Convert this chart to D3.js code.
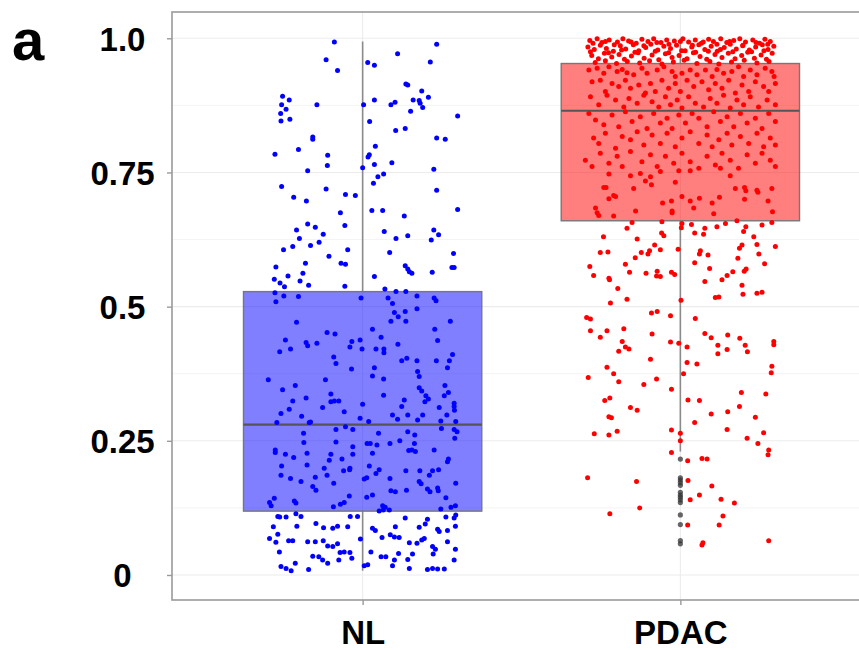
<!DOCTYPE html>
<html>
<head>
<meta charset="utf-8">
<script src="https://cdn.jsdelivr.net/npm/d3@7"></script>
<style>
  body { margin: 0; background: #fff; }
  svg { display: block; }
</style>
</head>
<body>
<svg id="chart" width="859" height="650"></svg>
<script>
// ---- data -------------------------------------------------------------
const categories = ["NL", "PDAC"];
const yTickValues = [0, 0.25, 0.5, 0.75, 1];
const yTickLabels = ["0", "0.25", "0.5", "0.75", "1.0"];
const yMinorValues = [0.125, 0.375, 0.625, 0.875];

// box-plot statistics per category (NL, PDAC)
const whiskerLow  = [0.008, 0.230];
const boxLower    = [0.119, 0.660];
const boxMedian   = [0.280, 0.865];
const boxUpper    = [0.528, 0.953];
const whiskerHigh = [0.994, 1.000];

// PDAC values flagged as outliers by the box plot
const pdacOutliers = [0.216, 0.181, 0.177, 0.172, 0.167, 0.154, 0.149, 0.145, 0.140, 0.135, 0.112, 0.094, 0.064, 0.058];

// individual samples: [jitter offset (fraction of category step), value]
const nlPoints = [
  [-0.089,0.993],[0.233,0.989],[0.110,0.971],[-0.115,0.960],[0.016,0.955],[0.037,0.950],[0.213,0.956],[-0.079,0.940],
  [0.136,0.915],[0.142,0.913],[0.186,0.902],[-0.252,0.892],[-0.231,0.885],[-0.255,0.876],[-0.241,0.868],[-0.258,0.860],
  [-0.257,0.846],[-0.229,0.849],[-0.144,0.876],[0.003,0.876],[0.037,0.885],[0.089,0.876],[0.102,0.881],[0.159,0.885],
  [0.178,0.884],[0.181,0.879],[0.189,0.871],[0.207,0.890],[0.151,0.864],[0.299,0.855],[0.022,0.845],[0.104,0.828],
  [0.134,0.832],[-0.157,0.816],[-0.157,0.812],[0.233,0.814],[0.260,0.812],[0.040,0.799],[-0.202,0.793],[-0.276,0.784],
  [-0.110,0.782],[0.021,0.783],[0.017,0.779],[-0.111,0.763],[0.000,0.759],[0.037,0.765],[0.092,0.768],[-0.173,0.753],
  [0.224,0.756],[0.066,0.747],[0.048,0.742],[0.034,0.730],[-0.255,0.724],[-0.115,0.719],[0.233,0.717],[-0.217,0.704],
  [-0.177,0.697],[-0.054,0.709],[-0.023,0.707],[-0.070,0.675],[0.029,0.679],[0.063,0.679],[0.131,0.669],[0.299,0.681],
  [-0.173,0.654],[-0.149,0.648],[-0.208,0.643],[-0.056,0.651],[-0.124,0.635],[-0.199,0.627],[-0.220,0.612],[-0.249,0.606],
  [-0.164,0.614],[-0.137,0.620],[-0.047,0.606],[-0.106,0.594],[-0.180,0.581],[-0.273,0.574],[-0.068,0.581],[-0.054,0.579],
  [-0.188,0.562],[-0.235,0.557],[-0.278,0.551],[-0.197,0.548],[-0.260,0.544],[-0.246,0.537],[-0.170,0.540],[-0.056,0.538],
  [0.068,0.640],[0.105,0.627],[0.142,0.632],[0.224,0.643],[0.239,0.634],[0.216,0.624],[0.085,0.601],[0.286,0.599],
  [0.134,0.576],[0.142,0.570],[0.147,0.565],[0.155,0.562],[0.219,0.564],[0.281,0.573],[0.288,0.573],[0.037,0.556],
  [0.070,0.533],[0.105,0.528],[0.136,0.528],
  [-0.276,0.526],[-0.248,0.520],[-0.202,0.519],[-0.273,0.509],[-0.005,0.516],[0.080,0.516],[0.094,0.506],[0.171,0.520],
  [0.225,0.516],[0.231,0.511],[0.171,0.496],[0.100,0.489],[0.134,0.491],[0.112,0.481],[0.089,0.473],[0.136,0.473],
  [-0.208,0.471],[0.276,0.473],[0.031,0.458],[0.227,0.458],[-0.112,0.452],[-0.087,0.449],[0.058,0.443],[-0.243,0.438],
  [-0.178,0.433],[-0.173,0.427],[-0.144,0.432],[-0.034,0.435],[-0.008,0.438],[0.236,0.437],[0.111,0.430],[-0.261,0.416],
  [-0.227,0.421],[-0.040,0.425],[-0.002,0.421],[0.042,0.421],[0.067,0.421],[0.067,0.414],[0.283,0.411],[-0.091,0.406],
  [-0.084,0.394],[0.123,0.399],[0.139,0.404],[0.171,0.399],[0.232,0.399],[0.273,0.399],[0.267,0.386],[-0.035,0.384],
  [0.037,0.386],[0.173,0.379],[0.178,0.370],[0.031,0.371],[0.066,0.365],[-0.297,0.364],[-0.117,0.364],[-0.212,0.353],
  [-0.252,0.345],[0.178,0.349],[0.186,0.343],[0.259,0.353],[0.270,0.340],[0.066,0.335],[-0.100,0.337],[-0.178,0.330],
  [0.199,0.334],[0.257,0.334],[0.207,0.328],[-0.220,0.324],[-0.100,0.323],[-0.089,0.324],[-0.075,0.324],[0.000,0.318],
  [0.131,0.326],[0.196,0.323],[0.288,0.320],
  [-0.126,0.312],[0.123,0.314],[0.288,0.314],[0.289,0.307],[-0.058,0.304],[-0.257,0.301],[-0.231,0.309],[-0.192,0.296],
  [0.094,0.298],[0.110,0.290],[0.142,0.298],[0.189,0.298],[0.241,0.312],[0.265,0.298],[0.173,0.289],[-0.008,0.292],
  [0.019,0.286],[-0.270,0.284],[-0.168,0.284],[-0.164,0.285],[0.246,0.287],[0.293,0.286],
  [-0.084,0.271],[-0.054,0.276],[-0.031,0.271],[-0.186,0.264],[0.050,0.264],[0.142,0.267],[0.164,0.261],[0.248,0.273],
  [0.288,0.271],[0.297,0.267],[-0.185,0.247],[-0.084,0.248],[0.014,0.245],[0.024,0.245],[0.086,0.245],[0.117,0.250],
  [0.163,0.245],[0.045,0.242],[-0.031,0.239],[0.290,0.255],[-0.275,0.233],[-0.275,0.228],[-0.243,0.225],[-0.217,0.219],
  [-0.175,0.227],[-0.100,0.225],[-0.105,0.214],[-0.065,0.216],[-0.031,0.225],[0.031,0.227],[0.145,0.232],[0.155,0.233],
  [0.166,0.230],[0.225,0.233],[0.270,0.216],[0.267,0.211],[-0.175,0.205],[-0.255,0.203],[-0.121,0.199],[-0.040,0.199],
  [-0.041,0.196],[-0.060,0.194],[0.021,0.203],[0.052,0.196],[0.042,0.189],[0.136,0.194],[0.180,0.194],[0.210,0.186],
  [0.220,0.194],[0.239,0.196],[-0.257,0.186],[-0.227,0.180],[-0.194,0.174],[-0.149,0.182],[-0.112,0.186],[0.013,0.181],
  [0.005,0.179],[0.086,0.180],[0.178,0.174],[0.184,0.170],[0.293,0.171],[-0.157,0.165],[-0.147,0.158],[-0.091,0.171],
  [0.089,0.157],[0.103,0.155],[0.138,0.158],[0.204,0.160],[0.212,0.155],[0.236,0.162],[0.238,0.157],[-0.042,0.147],
  [0.031,0.149],[0.013,0.145],[0.262,0.144],[-0.278,0.143],[-0.215,0.138],[-0.210,0.134],[-0.293,0.135],[-0.288,0.129],
  [-0.058,0.135],[-0.070,0.132],[-0.092,0.127],[0.063,0.129],[0.071,0.126],[0.246,0.123],[0.278,0.126],[0.292,0.129],
  [0.084,0.121],
  [-0.267,0.109],[-0.261,0.108],[-0.241,0.108],[-0.210,0.114],[-0.194,0.109],[-0.039,0.109],[-0.016,0.109],[0.052,0.119],
  [0.065,0.121],[0.134,0.106],[0.204,0.104],[0.262,0.108],[0.288,0.106],[0.293,0.112],[-0.281,0.090],[-0.207,0.091],
  [-0.147,0.096],[-0.123,0.088],[-0.094,0.087],[-0.079,0.091],[-0.047,0.090],[0.031,0.087],[0.040,0.083],[0.103,0.090],
  [0.178,0.089],[0.197,0.095],[0.236,0.085],[0.241,0.081],[0.267,0.083],[0.292,0.091],[-0.293,0.068],[-0.273,0.061],
  [-0.267,0.076],[-0.233,0.064],[-0.220,0.064],[-0.173,0.062],[-0.149,0.062],[-0.124,0.064],[-0.110,0.054],[-0.094,0.053],
  [-0.079,0.058],[-0.058,0.043],[-0.040,0.042],[-0.007,0.067],[0.061,0.070],[0.087,0.075],[0.100,0.071],[0.115,0.070],
  [0.147,0.060],[0.171,0.059],[0.186,0.065],[0.194,0.068],[0.267,0.062],[0.220,0.053],[0.229,0.048],[0.292,0.048],
  [-0.262,0.043],[-0.157,0.035],[-0.138,0.034],[-0.126,0.028],[-0.110,0.022],[-0.071,0.042],[-0.075,0.028],[-0.034,0.031],
  [0.026,0.043],[0.058,0.034],[0.073,0.034],[0.100,0.028],[0.113,0.040],[0.157,0.039],[0.142,0.029],[0.222,0.039],
  [0.288,0.028],[-0.257,0.016],[-0.241,0.012],[-0.212,0.022],[-0.225,0.008],[-0.170,0.010],[0.005,0.017],[0.016,0.019],
  [0.094,0.017],[0.147,0.012],[0.204,0.010],[0.236,0.011],[0.220,0.012],[0.257,0.011]
];

const pdacPoints = [
  // 0.95 – 1.00
  [-0.285,0.996],[-0.262,0.999],[-0.247,0.992],[-0.224,0.997],[-0.198,0.993],[-0.181,0.999],[-0.163,0.995],[-0.139,0.991],
  [-0.121,0.998],[-0.102,0.994],[-0.084,0.999],[-0.061,0.992],[-0.043,0.997],[-0.019,0.995],[0.008,0.999],[0.026,0.993],
  [0.047,0.997],[0.066,0.991],[0.089,0.998],[0.104,0.994],[0.127,0.999],[0.146,0.992],[0.168,0.996],[0.187,0.999],
  [0.205,0.993],[0.228,0.997],[0.249,0.991],[0.266,0.998],[0.283,0.994],
  [-0.291,0.984],[-0.271,0.979],[-0.252,0.987],[-0.233,0.981],[-0.211,0.976],[-0.189,0.986],[-0.172,0.980],[-0.148,0.988],
  [-0.131,0.977],[-0.109,0.983],[-0.093,0.989],[-0.071,0.978],[-0.052,0.985],[-0.031,0.981],[-0.012,0.987],[0.015,0.977],
  [0.036,0.984],[0.058,0.988],[0.077,0.979],[0.097,0.985],[0.116,0.976],[0.138,0.983],[0.157,0.989],[0.176,0.980],
  [0.196,0.986],[0.217,0.978],[0.237,0.984],[0.258,0.988],[0.276,0.979],[0.294,0.985],
  [-0.279,0.968],[-0.258,0.962],[-0.239,0.972],[-0.216,0.965],[-0.193,0.970],[-0.176,0.961],[-0.154,0.967],[-0.133,0.973],
  [-0.114,0.963],[-0.089,0.969],[-0.068,0.960],[-0.047,0.971],[-0.026,0.964],[-0.004,0.968],[0.021,0.962],[0.041,0.973],
  [0.062,0.966],[0.083,0.961],[0.109,0.970],[0.131,0.964],[0.151,0.972],[0.172,0.962],[0.193,0.968],[0.212,0.974],
  [0.233,0.963],[0.254,0.969],[0.271,0.961],[0.289,0.972],
  [-0.268,0.955],[-0.236,0.958],[-0.201,0.953],[-0.167,0.957],[-0.128,0.954],[-0.097,0.958],[-0.058,0.952],[-0.022,0.956],
  [0.012,0.959],[0.052,0.953],[0.093,0.957],[0.121,0.952],[0.161,0.956],[0.201,0.959],[0.241,0.954],[0.279,0.957],
  [-0.275,0.991],[-0.236,0.994],[-0.208,0.988],[-0.155,0.993],[-0.115,0.986],[-0.074,0.992],[-0.036,0.989],[0.000,0.994],
  [0.038,0.987],[0.072,0.993],[0.115,0.989],[0.155,0.994],[0.197,0.987],[0.238,0.992],[0.275,0.989],
  [-0.283,0.975],[-0.226,0.973],[-0.185,0.978],[-0.143,0.974],[-0.079,0.976],[-0.037,0.973],[0.004,0.977],[0.048,0.974],
  [0.088,0.976],[0.126,0.979],[0.165,0.975],[0.224,0.975],[0.263,0.977],
  // 0.75 – 0.95
  [-0.288,0.941],[-0.262,0.944],[-0.241,0.935],[-0.225,0.947],[-0.199,0.938],[-0.183,0.942],[-0.168,0.936],[-0.147,0.932],
  [-0.121,0.944],[-0.105,0.935],[-0.073,0.941],[-0.052,0.947],[-0.026,0.938],[-0.016,0.929],[0.005,0.935],[0.031,0.941],
  [0.052,0.932],[0.079,0.941],[0.100,0.929],[0.115,0.942],[0.136,0.935],[0.162,0.938],[0.183,0.947],[0.199,0.929],
  [0.220,0.941],[0.241,0.932],[0.267,0.944],[0.288,0.938],[0.295,0.929],
  [-0.278,0.919],[-0.252,0.922],[-0.236,0.901],[-0.215,0.916],[-0.194,0.910],[-0.173,0.922],[-0.157,0.907],[-0.131,0.913],
  [-0.110,0.898],[-0.094,0.916],[-0.079,0.901],[-0.058,0.922],[-0.037,0.907],[-0.016,0.916],[0.000,0.901],[0.021,0.922],
  [0.042,0.910],[0.068,0.919],[0.089,0.904],[0.110,0.916],[0.131,0.907],[0.152,0.922],[0.173,0.898],[0.194,0.913],
  [0.215,0.901],[0.236,0.919],[0.262,0.910],[0.278,0.901],[0.299,0.916],
  [-0.283,0.891],[-0.257,0.876],[-0.231,0.894],[-0.204,0.885],[-0.178,0.872],[-0.162,0.888],[-0.136,0.879],[-0.115,0.894],
  [-0.089,0.882],[-0.068,0.872],[-0.047,0.891],[-0.031,0.876],[-0.010,0.885],[0.005,0.870],[0.026,0.891],[0.047,0.879],
  [0.073,0.872],[0.094,0.888],[0.115,0.879],[0.136,0.894],[0.157,0.870],[0.178,0.885],[0.199,0.876],[0.220,0.891],
  [0.246,0.872],[0.273,0.885],[0.299,0.876],
  [-0.288,0.860],[-0.267,0.848],[-0.241,0.839],[-0.215,0.857],[-0.194,0.835],[-0.173,0.863],[-0.152,0.845],[-0.126,0.854],
  [-0.105,0.832],[-0.084,0.860],[-0.063,0.842],[-0.042,0.851],[-0.026,0.832],[-0.005,0.857],[0.016,0.842],[0.037,0.860],
  [0.058,0.851],[0.084,0.835],[0.105,0.863],[0.126,0.845],[0.147,0.854],[0.168,0.835],[0.189,0.860],[0.210,0.842],
  [0.236,0.851],[0.257,0.832],[0.278,0.860],[0.299,0.845],
  [-0.273,0.814],[-0.257,0.804],[-0.236,0.823],[-0.204,0.795],[-0.183,0.817],[-0.157,0.811],[-0.136,0.826],[-0.115,0.801],
  [-0.089,0.820],[-0.063,0.804],[-0.042,0.823],[-0.016,0.798],[0.005,0.814],[0.031,0.826],[0.058,0.804],[0.084,0.820],
  [0.100,0.798],[0.121,0.811],[0.147,0.823],[0.162,0.801],[0.189,0.817],[0.215,0.804],[0.241,0.823],[0.262,0.798],
  [0.283,0.814],[0.299,0.801],
  [-0.299,0.773],[-0.278,0.761],[-0.252,0.786],[-0.225,0.767],[-0.199,0.780],[-0.183,0.761],[-0.157,0.789],[-0.121,0.770],
  [-0.094,0.783],[-0.073,0.761],[-0.047,0.780],[-0.021,0.767],[0.005,0.786],[0.031,0.770],[0.058,0.758],[0.084,0.780],
  [0.110,0.764],[0.131,0.786],[0.157,0.773],[0.183,0.758],[0.210,0.783],[0.236,0.767],[0.257,0.786],[0.283,0.773],
  [0.299,0.761],
  // 0.66 – 0.75
  [-0.225,0.747],[-0.157,0.744],[-0.126,0.748],[-0.094,0.742],[-0.063,0.752],[-0.005,0.753],[0.031,0.753],[0.157,0.744],
  [0.126,0.758],[-0.110,0.734],[-0.091,0.727],[-0.016,0.732],[-0.241,0.722],[-0.234,0.722],[-0.147,0.720],[0.173,0.720],
  [0.202,0.722],[0.206,0.716],[0.241,0.717],[0.244,0.713],[0.288,0.720],[-0.225,0.701],[-0.210,0.707],[-0.204,0.705],
  [0.005,0.705],[0.031,0.697],[0.060,0.702],[0.123,0.704],[0.202,0.700],[0.276,0.697],[-0.056,0.693],[-0.028,0.697],
  [0.100,0.693],[0.042,0.684],[-0.267,0.684],[-0.141,0.678],[-0.026,0.678],[-0.026,0.675],[-0.262,0.675],[-0.257,0.670],
  [-0.210,0.669],[0.105,0.673],[0.290,0.677],
  // below the box
  [-0.168,0.646],[-0.152,0.657],[-0.058,0.658],[0.005,0.655],[0.003,0.647],[0.035,0.653],[0.077,0.646],[0.073,0.635],
  [0.115,0.649],[0.142,0.655],[0.178,0.660],[0.206,0.649],[0.257,0.652],[0.288,0.657],[0.045,0.637],[0.199,0.640],
  [-0.242,0.630],[-0.136,0.626],[-0.059,0.637],[-0.052,0.632],[0.231,0.630],[-0.081,0.615],[0.194,0.615],[0.186,0.609],
  [0.241,0.616],[0.299,0.612],[-0.252,0.601],[-0.228,0.602],[-0.123,0.601],[-0.097,0.604],[-0.102,0.598],[-0.063,0.606],
  [-0.007,0.607],[0.063,0.604],[0.060,0.598],[0.087,0.596],[0.247,0.598],[-0.142,0.591],[0.181,0.590],[-0.285,0.575],
  [-0.173,0.579],[0.045,0.582],[0.207,0.570],[0.201,0.566],[0.265,0.580],[0.092,0.571],[-0.273,0.558],[-0.160,0.564],
  [-0.108,0.562],[-0.073,0.566],[-0.075,0.557],[-0.063,0.556],[-0.028,0.564],[-0.018,0.560],[0.165,0.565],[0.147,0.558],
  [0.131,0.550],[-0.225,0.553],[-0.223,0.550],[0.077,0.547],[0.194,0.540],[-0.197,0.534],[0.110,0.517],[0.121,0.518],
  [0.241,0.525],[0.257,0.527],[0.197,0.523],[-0.220,0.507],[-0.168,0.514],[0.002,0.512],[-0.295,0.480],[-0.283,0.477],
  [-0.091,0.488],[-0.073,0.491],[-0.031,0.483],[0.047,0.478],[-0.283,0.455],[-0.252,0.443],[-0.231,0.455],[-0.178,0.459],
  [-0.089,0.449],[-0.183,0.435],[0.077,0.450],[0.097,0.442],[0.149,0.447],[0.187,0.441],[0.204,0.428],[-0.031,0.434],
  [-0.005,0.432],[0.021,0.425],[0.118,0.428],[0.147,0.420],[0.294,0.435],[0.294,0.429],[-0.194,0.417],[-0.173,0.425],
  [-0.162,0.421],[0.211,0.416],
  [-0.094,0.402],[0.021,0.396],[0.052,0.393],[0.118,0.412],[-0.231,0.387],[-0.210,0.375],[-0.194,0.360],[-0.290,0.368],
  [-0.115,0.355],[-0.075,0.365],[0.010,0.375],[0.288,0.389],[0.286,0.377],[-0.028,0.346],[-0.238,0.325],[-0.222,0.330],
  [0.024,0.326],[0.060,0.325],[0.192,0.340],[0.269,0.337],[-0.157,0.312],[-0.136,0.307],[0.186,0.314],[0.149,0.304],
  [0.097,0.300],[-0.225,0.295],[-0.217,0.293],[0.045,0.284],[0.236,0.294],[0.147,0.271],[-0.271,0.263],[-0.225,0.261],
  [-0.199,0.268],[-0.028,0.270],[0.000,0.264],[0.000,0.250],[0.210,0.255],[0.262,0.265],[0.244,0.245],[0.278,0.233],
  [0.276,0.224],[-0.028,0.228],[0.023,0.213],[0.068,0.217],[0.084,0.216],[-0.292,0.181],[-0.138,0.174],[0.024,0.176],
  [0.099,0.166],[0.031,0.140],[0.060,0.149],[0.128,0.141],[0.170,0.134],[-0.222,0.114],[-0.128,0.125],[0.134,0.110],
  [0.122,0.093],[0.023,0.093],[0.071,0.060],[0.068,0.056],[0.278,0.064]
];

const pointColors = ["#0000ff", "#ff0000"];
const boxFills = ["rgba(0,0,255,0.5)", "rgba(255,0,0,0.5)"];
const panelLetter = "a";

// ---- layout -------------------------------------------------------------
const svg = d3.select("#chart");
const panel = { left: 172, right: 871, top: 12, bottom: 600 };
const FONT = "'Liberation Sans', Arial, Helvetica, sans-serif";

const x = d3.scalePoint()
  .domain(categories)
  .range([panel.left, panel.right])
  .padding(0.6);
const step = x.step();

const y = d3.scaleLinear()
  .domain([-0.0466, 1.049])
  .range([panel.bottom, panel.top]);

// ---- grid -------------------------------------------------------------
const grid = svg.append("g");
grid.selectAll("line.minor")
  .data(yMinorValues)
  .join("line")
  .attr("x1", panel.left).attr("x2", panel.right)
  .attr("y1", d => y(d)).attr("y2", d => y(d))
  .attr("stroke", "#f4f4f4").attr("stroke-width", 1);
grid.selectAll("line.major")
  .data(yTickValues)
  .join("line")
  .attr("x1", panel.left).attr("x2", panel.right)
  .attr("y1", d => y(d)).attr("y2", d => y(d))
  .attr("stroke", "#ececec").attr("stroke-width", 1.1);
grid.selectAll("line.vert")
  .data(categories)
  .join("line")
  .attr("x1", d => x(d)).attr("x2", d => x(d))
  .attr("y1", panel.top).attr("y2", panel.bottom)
  .attr("stroke", "#ececec").attr("stroke-width", 1.1);

// ---- boxes ------------------------------------------------------------
const stats = categories.map((c, i) => ({
  cat: c, i,
  lo: whiskerLow[i], q1: boxLower[i], med: boxMedian[i], q3: boxUpper[i], hi: whiskerHigh[i]
}));

const boxes = svg.append("g");
// whiskers
boxes.selectAll("line.wlow")
  .data(stats).join("line")
  .attr("x1", d => x(d.cat)).attr("x2", d => x(d.cat))
  .attr("y1", d => y(d.lo)).attr("y2", d => y(d.q1))
  .attr("stroke", "#8a8a8a").attr("stroke-width", 1.6);
boxes.selectAll("line.whigh")
  .data(stats).join("line")
  .attr("x1", d => x(d.cat)).attr("x2", d => x(d.cat))
  .attr("y1", d => y(d.q3)).attr("y2", d => y(d.hi))
  .attr("stroke", "#8a8a8a").attr("stroke-width", 1.6);
// hinges
const boxWidth = 0.75 * step;
boxes.selectAll("rect.box")
  .data(stats).join("rect")
  .attr("x", d => x(d.cat) - boxWidth / 2)
  .attr("width", boxWidth)
  .attr("y", d => y(d.q3))
  .attr("height", d => y(d.q1) - y(d.q3))
  .attr("fill", d => boxFills[d.i])
  .attr("stroke", "#777").attr("stroke-width", 1.4);
// medians
boxes.selectAll("line.median")
  .data(stats).join("line")
  .attr("x1", d => x(d.cat) - boxWidth / 2).attr("x2", d => x(d.cat) + boxWidth / 2)
  .attr("y1", d => y(d.med)).attr("y2", d => y(d.med))
  .attr("stroke", "#555").attr("stroke-width", 2.2);
// outliers
boxes.selectAll("circle.outlier")
  .data(pdacOutliers).join("circle")
  .attr("cx", x("PDAC"))
  .attr("cy", d => y(d))
  .attr("r", 2.6)
  .attr("fill", "#333").attr("fill-opacity", 0.75);

// ---- jittered samples -------------------------------------------------
const pointsGroup = svg.append("g");
[nlPoints, pdacPoints].forEach((pts, i) => {
  const cx = x(categories[i]);
  pointsGroup.append("g")
    .selectAll("circle")
    .data(pts).join("circle")
    .attr("cx", d => cx + d[0] * step)
    .attr("cy", d => y(d[1]))
    .attr("r", 2.5)
    .attr("fill", pointColors[i]);
});

// ---- panel border and axes -------------------------------------------
svg.append("rect")
  .attr("x", panel.left).attr("y", panel.top)
  .attr("width", panel.right - panel.left)
  .attr("height", panel.bottom - panel.top)
  .attr("fill", "none")
  .attr("stroke", "#9a9a9a").attr("stroke-width", 1.6);

const yAxis = svg.append("g")
  .attr("transform", `translate(${panel.left},0)`)
  .call(d3.axisLeft(y).tickValues(yTickValues).tickFormat((d, i) => yTickLabels[i]).tickSize(5).tickPadding(0));
yAxis.select(".domain").remove();
yAxis.selectAll(".tick line").attr("stroke", "#9a9a9a").attr("stroke-width", 1.4);
yAxis.selectAll(".tick text")
  .attr("x", -49.5)
  .attr("dy", "0.36em")
  .attr("text-anchor", "middle")
  .style("font-family", FONT)
  .style("font-weight", "bold")
  .style("font-size", "33px")
  .attr("fill", "#000");

const xAxis = svg.append("g")
  .attr("transform", `translate(0,${panel.bottom})`)
  .call(d3.axisBottom(x).tickSize(5).tickPadding(0));
xAxis.select(".domain").remove();
xAxis.selectAll(".tick line").attr("stroke", "#9a9a9a").attr("stroke-width", 1.4);
xAxis.selectAll(".tick text")
  .attr("y", 44)
  .attr("dy", 0)
  .style("font-family", FONT)
  .style("font-weight", "bold")
  .style("font-size", "33px")
  .attr("fill", "#000");

// panel letter
svg.append("text")
  .attr("x", 12).attr("y", 60)
  .style("font-family", FONT)
  .style("font-weight", "bold")
  .style("font-size", "58px")
  .attr("fill", "#000")
  .text(panelLetter);
</script>
</body>
</html>
